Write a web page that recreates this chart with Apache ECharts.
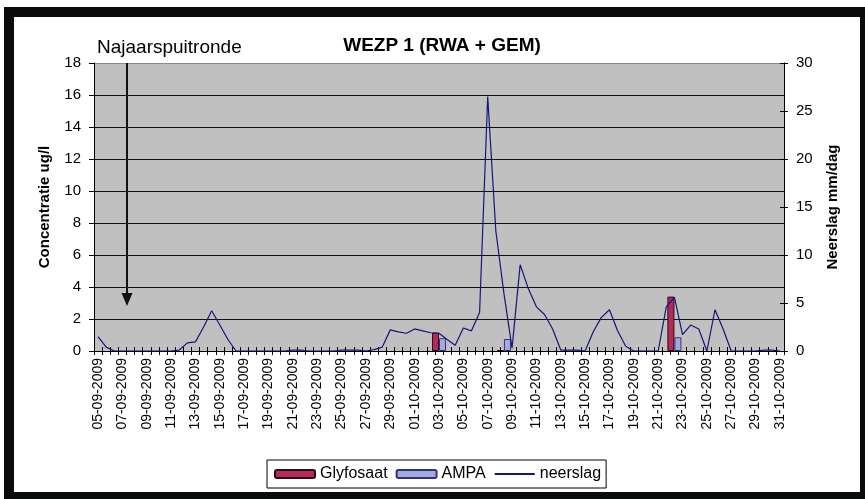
<!DOCTYPE html>
<html><head><meta charset="utf-8">
<script src="https://cdn.jsdelivr.net/npm/echarts@6/dist/echarts.min.js"></script>
<style>html,body{margin:0;padding:0;background:#fff}#c{width:865px;height:499px}</style>
</head><body><div id="c"></div>
<script>
const categories = [
"05-09-2009","05-09-2009 16:00","06-09-2009 08:00",
"07-09-2009","07-09-2009 16:00","08-09-2009 08:00",
"09-09-2009","09-09-2009 16:00","10-09-2009 08:00",
"11-09-2009","11-09-2009 16:00","12-09-2009 08:00",
"13-09-2009","13-09-2009 16:00","14-09-2009 08:00",
"15-09-2009","15-09-2009 16:00","16-09-2009 08:00",
"17-09-2009","17-09-2009 16:00","18-09-2009 08:00",
"19-09-2009","19-09-2009 16:00","20-09-2009 08:00",
"21-09-2009","21-09-2009 16:00","22-09-2009 08:00",
"23-09-2009","23-09-2009 16:00","24-09-2009 08:00",
"25-09-2009","25-09-2009 16:00","26-09-2009 08:00",
"27-09-2009","27-09-2009 16:00","28-09-2009 08:00",
"29-09-2009","29-09-2009 16:00","30-09-2009 08:00",
"01-10-2009","01-10-2009 16:00","02-10-2009 08:00",
"03-10-2009","03-10-2009 16:00","04-10-2009 08:00",
"05-10-2009","05-10-2009 16:00","06-10-2009 08:00",
"07-10-2009","07-10-2009 16:00","08-10-2009 08:00",
"09-10-2009","09-10-2009 16:00","10-10-2009 08:00",
"11-10-2009","11-10-2009 16:00","12-10-2009 08:00",
"13-10-2009","13-10-2009 16:00","14-10-2009 08:00",
"15-10-2009","15-10-2009 16:00","16-10-2009 08:00",
"17-10-2009","17-10-2009 16:00","18-10-2009 08:00",
"19-10-2009","19-10-2009 16:00","20-10-2009 08:00",
"21-10-2009","21-10-2009 16:00","22-10-2009 08:00",
"23-10-2009","23-10-2009 16:00","24-10-2009 08:00",
"25-10-2009","25-10-2009 16:00","26-10-2009 08:00",
"27-10-2009","27-10-2009 16:00","28-10-2009 08:00",
"29-10-2009","29-10-2009 16:00","30-10-2009 08:00",
"31-10-2009"
];
const neerslag = [
1.5, 0.4, 0, 0, 0, 0, 0, 0, 0, 0,
0.1, 0.85, 0.95, 2.5, 4.2, 2.7, 1.2, 0, 0, 0,
0, 0, 0, 0, 0.1, 0.1, 0, 0, 0, 0,
0.1, 0.1, 0.1, 0, 0.15, 0.4, 2.2, 2.0, 1.85, 2.3,
2.1, 1.9, 1.85, 1.2, 0.6, 2.4, 2.1, 4.0, 26.5, 12.5,
6.0, 0.3, 9.0, 6.5, 4.6, 3.8, 2.3, 0.1, 0.1, 0.1,
0, 2.0, 3.5, 4.3, 2.1, 0.5, 0, 0, 0, 0,
4.6, 5.6, 1.7, 2.7, 2.3, 0, 4.3, 2.3, 0, 0,
0, 0, 0.1, 0.1, 0
];
const glyfosaatDates = ["03-10-2009", "08-10-2009 08:00", "22-10-2009 08:00"];
const glyfosaatValues = [1.15, 0.05, 3.4];
const ampaDates = ["03-10-2009", "08-10-2009 08:00", "22-10-2009 08:00"];
const ampaValues = [0.8, 0.75, 0.86];
const leftTicks = {min: 0, max: 18, interval: 2};
const rightTicks = {min: 0, max: 30, interval: 5};

const FONT = '"Liberation Sans", Arial, sans-serif';
const chart = echarts.init(document.getElementById('c'), null, {renderer: 'canvas'});
const gridColors = ['#111','#111','#111','#111','#111','#111','#111','#111','#111','#8a8a8a'];

chart.setOption({
  animation: false,
  backgroundColor: '#fff',
  title: {
    text: 'WEZP 1 (RWA + GEM)', left: 437, top: 31, textAlign: 'center',
    textStyle: {fontFamily: FONT, fontSize: 19, fontWeight: 'bold', color: '#000'}
  },
  grid: {left: 94, right: 81, top: 63, bottom: 148, show: true, backgroundColor: '#c0c0c0', borderWidth: 0},
  legend: {
    left: 267, top: 460, orient: 'horizontal',
    data: ['Glyfosaat', 'AMPA', {name: 'neerslag', itemStyle: {opacity: 0}}],
    itemWidth: 40, itemHeight: 8, itemGap: 8,
    padding: [6, 5, 6, 7],
    backgroundColor: '#fff', borderColor: '#000', borderWidth: 1, borderRadius: 0,
    textStyle: {fontFamily: FONT, fontSize: 16, color: '#000'}
  },
  xAxis: [{
    type: 'category', gridIndex: 0, data: categories, boundaryGap: true,
    axisLine: {show: true, lineStyle: {color: '#000', width: 1}},
    axisTick: {show: true, interval: 0, length: 4, lineStyle: {color: '#000'}},
    axisLabel: {interval: 2, rotate: 90, margin: 7, fontFamily: FONT, fontSize: 14, color: '#000'},
    splitLine: {show: false}
  }, {
    type: 'category', gridIndex: 0, data: categories, position: 'bottom', boundaryGap: true,
    axisLine: {show: false},
    axisTick: {show: true, interval: 0, inside: true, length: 4, lineStyle: {color: '#000'}},
    axisLabel: {show: false}, splitLine: {show: false}
  }],
  yAxis: [{
    type: 'value', gridIndex: 0, min: leftTicks.min, max: leftTicks.max, interval: leftTicks.interval,
    name: 'Concentratie ug/l', nameLocation: 'middle', nameRotate: 90, nameGap: 42, nameMoveOverlap: false,
    nameTextStyle: {fontFamily: FONT, fontSize: 15, fontWeight: 'bold', color: '#000'},
    axisLine: {show: true, lineStyle: {color: '#000', width: 1}},
    axisTick: {show: true, length: 5, lineStyle: {color: '#000'}},
    axisLabel: {margin: 13, fontFamily: FONT, fontSize: 15, color: '#000'},
    splitLine: {show: true, lineStyle: {color: gridColors, width: 1}}
  }, {
    type: 'value', gridIndex: 0, position: 'right', min: rightTicks.min, max: rightTicks.max, interval: rightTicks.interval,
    name: 'Neerslag mm/dag', nameLocation: 'middle', nameRotate: 90, nameGap: 41, nameMoveOverlap: false,
    nameTextStyle: {fontFamily: FONT, fontSize: 15, fontWeight: 'bold', color: '#000'},
    axisLine: {show: true, lineStyle: {color: '#000', width: 1}},
    axisTick: {show: true, length: 4, lineStyle: {color: '#000'}},
    axisLabel: {margin: 12, fontFamily: FONT, fontSize: 15, color: '#000'},
    splitLine: {show: false}
  }, {
    type: 'value', gridIndex: 0, position: 'right', min: rightTicks.min, max: rightTicks.max, interval: rightTicks.interval,
    axisLine: {show: false},
    axisTick: {show: true, inside: true, length: 4, lineStyle: {color: '#000'}},
    axisLabel: {show: false}, splitLine: {show: false}
  }],
  series: [{
    name: 'Glyfosaat', type: 'bar', xAxisIndex: 0, yAxisIndex: 0,
    data: glyfosaatDates.map((d, k) => [d, glyfosaatValues[k]]),
    barWidth: 7, barGap: '0%',
    itemStyle: {color: '#b52a5c', borderColor: '#2a0812', borderWidth: 1}
  }, {
    name: 'AMPA', type: 'bar', xAxisIndex: 0, yAxisIndex: 0,
    data: ampaDates.map((d, k) => [d, ampaValues[k]]),
    barWidth: 7, barGap: '0%',
    itemStyle: {color: '#a2a9e4', borderColor: '#33376e', borderWidth: 1}
  }, {
    name: 'neerslag', type: 'line', xAxisIndex: 0, yAxisIndex: 1,
    data: neerslag, symbol: 'none', z: 5,
    lineStyle: {color: '#15157a', width: 1.2}, itemStyle: {color: '#15157a'}
  }],
  graphic: [
    {type: 'rect', z: -100, shape: {x: 4, y: 7, width: 861, height: 492}, style: {fill: '#0a0c0b'}},
    {type: 'rect', z: -99, shape: {x: 14, y: 17, width: 846, height: 475}, style: {fill: '#ffffff'}},
    {type: 'line', z: 100, shape: {x1: 127, y1: 63, x2: 127, y2: 296}, style: {stroke: '#111', lineWidth: 2}},
    {type: 'polygon', z: 100, shape: {points: [[121.5, 293], [132.5, 293], [127, 306]]}, style: {fill: '#111'}},
    {type: 'text', z: 100, x: 97, y: 38, style: {text: 'Najaarspuitronde', fontFamily: FONT, fontSize: 19, fill: '#000', align: 'left', verticalAlign: 'top'}}
  ]
});
</script>
</body></html>
